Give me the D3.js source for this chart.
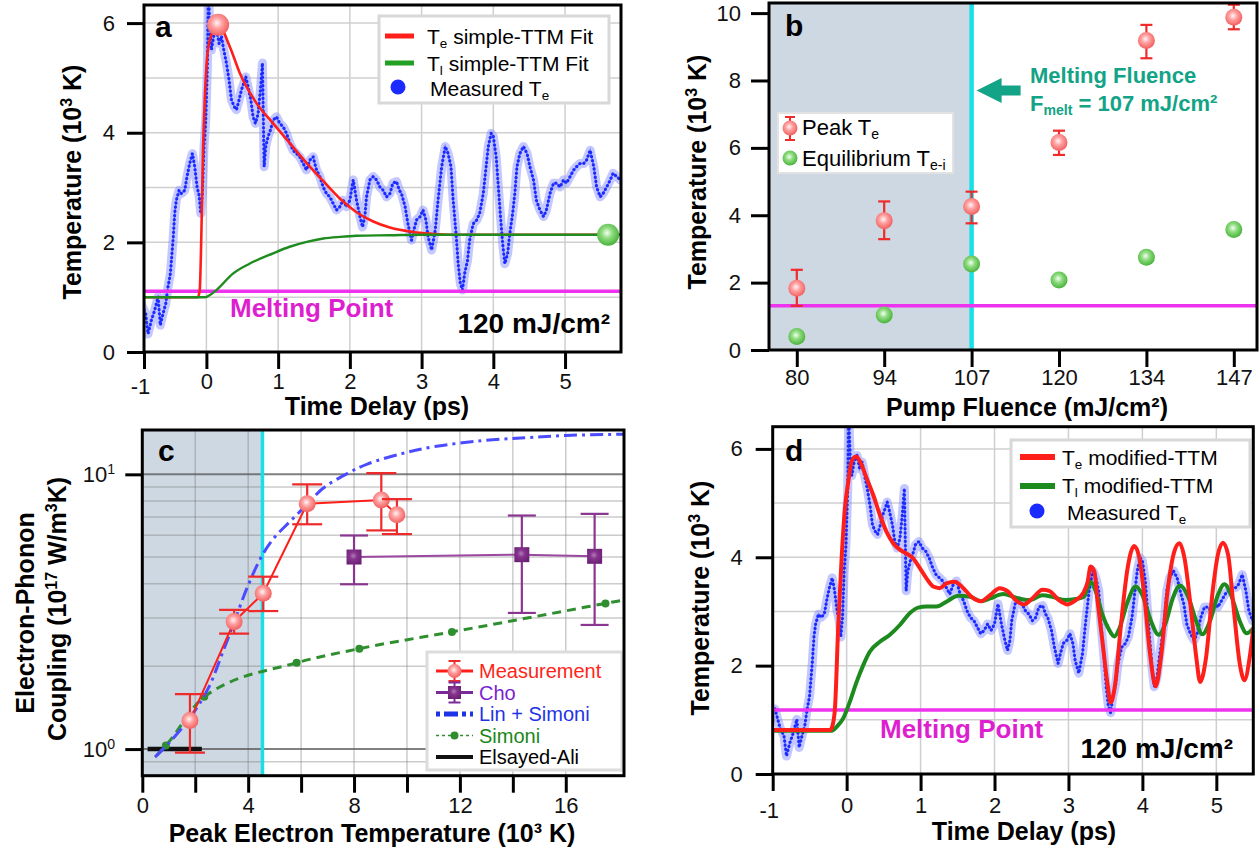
<!DOCTYPE html>
<html><head><meta charset="utf-8">
<script src="https://cdn.jsdelivr.net/npm/d3@7"></script>
<style>
body{margin:0;background:#fff}
svg{display:block}
text{font-family:"Liberation Sans",Arial,Helvetica,sans-serif}
</style></head>
<body><svg id="fig" width="1260" height="850"></svg>
<script>
// ---------------- DATA ----------------
// Measured electron temperature trace (time in ps, T in 10^3 K), shared by panels a and d
const measuredTe = [[-0.97,1.2],[-0.93,1.0],[-0.90,0.85],[-0.847,0.70],[-0.814,0.33],[-0.767,0.58],[-0.721,0.76],[-0.674,1.01],[-0.642,0.49],[-0.605,0.70],[-0.567,0.88],[-0.535,1.19],[-0.502,1.43],[-0.465,2.04],[-0.442,2.53],[-0.419,2.77],[-0.381,2.95],[-0.349,2.89],[-0.302,2.95],[-0.270,3.20],[-0.233,3.44],[-0.195,3.62],[-0.163,3.38],[-0.130,3.01],[-0.102,2.86],[-0.079,2.53],[-0.056,2.89],[-0.033,3.75],[-0.009,4.23],[0.014,5.21],[0.028,6.6],[0.047,5.9],[0.070,5.51],[0.102,5.76],[0.140,5.88],[0.177,5.63],[0.209,5.76],[0.242,5.51],[0.279,5.27],[0.316,4.96],[0.349,4.60],[0.386,4.48],[0.419,4.42],[0.456,4.60],[0.488,4.78],[0.521,4.90],[0.549,5.02],[0.581,4.84],[0.619,4.60],[0.651,4.29],[0.684,4.17],[0.721,4.35],[0.753,4.78],[0.781,5.27],[0.805,3.38],[0.828,3.75],[0.860,3.93],[0.893,4.05],[0.930,4.23],[0.977,4.29],[1.023,4.17],[1.070,4.11],[1.116,3.99],[1.163,3.81],[1.209,3.68],[1.256,3.62],[1.302,3.56],[1.349,3.44],[1.395,3.32],[1.442,3.50],[1.488,3.56],[1.535,3.32],[1.581,3.20],[1.628,3.01],[1.674,2.89],[1.721,2.83],[1.767,2.71],[1.814,2.59],[1.860,2.65],[1.907,2.77],[1.953,2.65],[2.000,2.77],[2.047,3.14],[2.093,2.77],[2.140,2.47],[2.177,2.28],[2.209,2.47],[2.233,2.83],[2.279,3.14],[2.326,3.20],[2.372,3.14],[2.419,3.01],[2.465,2.95],[2.512,2.83],[2.558,2.89],[2.60,3.08],[2.65,3.11],[2.69,2.95],[2.72,2.89],[2.77,2.65],[2.81,2.34],[2.86,2.04],[2.89,2.22],[2.93,2.41],[2.98,2.47],[3.02,2.59],[3.06,2.41],[3.09,2.10],[3.14,1.86],[3.19,2.22],[3.23,2.77],[3.28,3.38],[3.33,3.75],[3.37,3.62],[3.41,3.38],[3.44,2.77],[3.48,2.16],[3.51,1.61],[3.54,1.25],[3.57,1.13],[3.60,1.43],[3.64,1.67],[3.67,2.04],[3.72,2.34],[3.77,2.41],[3.81,2.53],[3.86,2.89],[3.90,3.38],[3.93,3.75],[3.97,3.99],[4.00,3.93],[4.04,3.56],[4.07,3.01],[4.10,2.47],[4.13,1.98],[4.16,1.61],[4.20,1.80],[4.23,2.16],[4.27,2.53],[4.30,2.89],[4.33,3.38],[4.37,3.62],[4.42,3.75],[4.47,3.62],[4.51,3.38],[4.56,3.14],[4.60,2.77],[4.65,2.59],[4.70,2.47],[4.74,2.59],[4.79,2.89],[4.84,3.08],[4.88,3.08],[4.93,3.01],[4.98,3.14],[5.02,3.08],[5.07,3.20],[5.12,3.32],[5.16,3.38],[5.21,3.44],[5.26,3.44],[5.30,3.50],[5.35,3.68],[5.40,3.38],[5.44,3.01],[5.49,2.83],[5.53,2.89],[5.58,3.01],[5.63,3.14],[5.67,3.26],[5.72,3.20],[5.77,3.14]];

// Panel a: simple-TTM fits
const simpleTe = [[-0.87,1.0],[-0.12,1.0],[-0.093,1.13],[-0.07,2.16],[-0.047,3.68],[-0.023,4.6],[0,5.21],[0.047,5.69],[0.116,5.9],[0.163,5.97],[0.326,5.57],[0.465,5.09],[0.698,4.54],[0.93,4.17],[1.163,3.81],[1.395,3.45],[1.628,3.12],[1.86,2.8],[2.093,2.55],[2.326,2.38],[2.558,2.27],[2.88,2.19],[3.12,2.16],[3.4,2.14],[5.78,2.14]];
const simpleTl = [[-0.87,1.0],[-0.02,1.0],[0.05,1.04],[0.14,1.13],[0.37,1.43],[0.6,1.61],[0.93,1.8],[1.16,1.92],[1.4,2.01],[1.63,2.07],[1.86,2.1],[2.09,2.12],[2.56,2.13],[3.0,2.14],[5.78,2.14]];
const peakPointA = [0.163, 5.97];
const equilPointA = [5.6, 2.14];
const meltLevelA = 1.11;
const aTimeTicks = [-0.87, 0, 1, 2, 3, 4, 5];
const aTimeTickLabels = ["-1","0","1","2","3","4","5"];
const aTempTicks = [0, 2, 4, 6];

// Panel b: fluence dependence
const fluences = ["80","94","107","120","134","147"];
const peakTe   = [1.83, 3.84, 4.26, 6.16, 9.19, 9.88];
const peakLo   = [1.31, 3.29, 3.76, 5.79, 8.66, 9.52];
const peakHi   = [2.38, 4.41, 4.70, 6.51, 9.65, 10.25];
const equilTe  = [0.40, 1.04, 2.55, 2.08, 2.75, 3.58];
const meltFluence = "107";
const meltLevelB = 1.31;
const bTempTicks = [0, 2, 4, 6, 8, 10];

// Panel c: electron-phonon coupling (x in 10^3 K, G in 10^17 W/m^3K)
const measPeakT = [1.80, 3.47, 4.57, 6.23, 9.03, 9.62];
const measG     = [1.27, 2.91, 3.69, 7.82, 8.07, 7.12];
const measGLo   = [0.97, 2.63, 3.18, 6.58, 6.25, 6.06];
const measGHi   = [1.585, 3.21, 4.24, 9.2, 10.1, 8.12];
const choT   = [8.0, 14.34, 17.09];
const choG   = [5.0, 5.1, 5.03];
const choGLo = [3.98, 3.13, 2.83];
const choGHi = [5.99, 7.08, 7.18];
const linSimoni = [[0.48,0.935],[1,1.05],[1.8,1.3],[2.5,1.67],[3,2.2],[3.5,2.95],[4,3.95],[4.54,5.09],[5,5.9],[5.57,6.72],[6.2,7.73],[6.83,8.9],[7.77,10.1],[8.5,10.9],[9.81,11.9],[11,12.6],[12.83,13.25],[14.5,13.6],[16,13.85],[18.2,14.0]];
const simoniPts = [[0.89,1.03],[2.34,1.55],[5.83,2.06],[8.2,2.32],[11.7,2.67],[17.5,3.39]];
const simoniStart = [0.55,0.95];
const simoniEnd = [18.2,3.49];
const elsayedAli = [[0.2,1.0],[2.25,1.0]];
const meltPeakTeC = 4.54;
const cXTicks = [0,2,4,6,8,10,12,14,16];
const cYTicks = [1, 10];
const cYTickExp = ["0","1"];
const cMinorGrid = [0.9,2,3,4,5,6,7,8,9];
const cMajorGrid = [1,10];
const cLegendLabels = ["Measurement","Cho","Lin + Simoni","Simoni","Elsayed-Ali"];

// Panel d: modified-TTM
const modTe = [[-1,0.81],[-0.225,0.81],[-0.19,0.9],[-0.158,1.21],[-0.113,2.75],[-0.068,3.98],[-0.023,4.90],[0.023,5.40],[0.068,5.77],[0.126,5.86],[0.18,5.77],[0.27,5.46],[0.36,5.15],[0.45,4.78],[0.54,4.47],[0.63,4.26],[0.72,4.14],[0.81,4.07],[0.9,3.98],[0.99,3.80],[1.08,3.61],[1.17,3.46],[1.26,3.43],[1.35,3.52],[1.46,3.55],[1.58,3.43],[1.69,3.27],[1.82,3.19],[1.94,3.30],[2.07,3.43],[2.18,3.37],[2.285,3.21],[2.4,3.13],[2.51,3.24],[2.65,3.40],[2.74,3.38],[2.87,3.21],[2.99,3.13],[3.10,3.21],[3.2,3.34],[3.26,3.55],[3.30,3.83],[3.35,3.74],[3.39,3.24],[3.46,2.44],[3.53,1.64],[3.57,1.32],[3.63,1.64],[3.71,2.75],[3.80,3.80],[3.89,4.21],[3.96,3.98],[4.03,3.24],[4.10,2.26],[4.18,1.62],[4.25,2.14],[4.34,3.37],[4.43,4.10],[4.50,4.26],[4.57,3.98],[4.66,3.0],[4.73,2.14],[4.78,1.70],[4.86,2.14],[4.95,3.37],[5.02,4.04],[5.09,4.27],[5.16,4.04],[5.23,3.12],[5.32,2.01],[5.38,1.73],[5.45,2.14],[5.5,2.69]];
const modTl = [[-1,0.80],[-0.2,0.80],[-0.135,0.87],[-0.045,1.03],[0.045,1.34],[0.135,1.70],[0.225,2.01],[0.315,2.26],[0.45,2.44],[0.585,2.57],[0.72,2.75],[0.856,2.97],[0.968,3.07],[1.08,3.09],[1.216,3.09],[1.35,3.18],[1.51,3.29],[1.67,3.27],[1.82,3.19],[1.94,3.24],[2.12,3.32],[2.30,3.25],[2.47,3.21],[2.65,3.30],[2.78,3.27],[2.96,3.21],[3.10,3.23],[3.21,3.27],[3.30,3.55],[3.37,3.37],[3.46,2.94],[3.55,2.66],[3.62,2.54],[3.69,2.69],[3.80,3.18],[3.91,3.46],[4.0,3.30],[4.12,2.81],[4.22,2.57],[4.32,2.81],[4.41,3.24],[4.51,3.48],[4.62,3.27],[4.73,2.81],[4.81,2.58],[4.91,2.81],[5.02,3.30],[5.11,3.50],[5.20,3.30],[5.32,2.81],[5.41,2.60],[5.5,2.69]];
const meltLevelD = 1.18;
const dTimeTicks = [-1,0,1,2,3,4,5];
const dTempTicks = [0,2,4,6];

// ---------------- STYLE ----------------
const C = {
  red:"#ff1f1a", greenA:"#1e8c1e", magenta:"#ee33ee", magText:"#dd1fcf",
  cyan:"#19dfe6", shade:"#cdd8e3", teal:"#13a386", grid:"#cfcfcf",
  errRed:"#ee2a2a", purple:"#8a3590", blueDash:"#4b4cff", simoni:"#2f8f2f"
};
const plain = d => String(d);
const svg = d3.select("#fig");
const defs = svg.append("defs");
function radial(id, c0, c1, c2){
  const g = defs.append("radialGradient").attr("id",id).attr("cx","45%").attr("cy","42%").attr("r","62%");
  g.append("stop").attr("offset","0%").attr("stop-color",c0);
  g.append("stop").attr("offset","40%").attr("stop-color",c1);
  g.append("stop").attr("offset","100%").attr("stop-color",c2);
}
radial("gRed","#fff6f6","#ff9f9f","#f05858");
radial("gGreen","#f2fff0","#8edb7e","#3fae33");
radial("gPurple","#b27ab8","#86338e","#6b2173");
function clip(id,x0,y0,x1,y1){
  defs.append("clipPath").attr("id",id).append("rect").attr("x",x0).attr("y",y0).attr("width",x1-x0).attr("height",y1-y0);
}
function rich(g, x, y, parts, size, color, weight, anchor){
  const t = g.append("text").attr("x",x).attr("y",y).attr("font-size",size).attr("fill",color)
    .attr("font-weight",weight||"normal").attr("text-anchor",anchor||"start");
  let shift = 0;
  parts.forEach(p=>{
    const sp = t.append("tspan").text(p.t);
    const target = p.sub ? size*0.2 : (p.sup ? -size*0.38 : 0);
    if (target-shift !== 0) sp.attr("dy", target-shift);
    shift = target;
    if (p.sub || p.sup) sp.attr("font-size", size*0.64);
  });
  return t;
}
function styleAxis(g, size){
  g.select(".domain").remove();
  g.selectAll(".tick line").attr("stroke","#000").attr("stroke-width",3);
  g.selectAll(".tick text").attr("font-size",size||22).attr("fill","#111")
    .attr("font-family","'Liberation Sans',Arial,sans-serif");
}
function frame(x0,y0,x1,y1){
  svg.append("rect").attr("x",x0).attr("y",y0).attr("width",x1-x0).attr("height",y1-y0)
    .attr("fill","none").attr("stroke","#000").attr("stroke-width",3);
}
function drawTrace(g, x, y, data){
  const line = d3.line().x(d=>x(d[0])).y(d=>y(d[1]));
  g.append("path").attr("d",line(data)).attr("fill","none").attr("stroke","#7d86ff")
    .attr("stroke-opacity",0.45).attr("stroke-width",9).attr("stroke-linejoin","round").attr("stroke-linecap","round");
  g.append("path").attr("d",line(data)).attr("fill","none").attr("stroke","#7480ff").attr("stroke-width",1.6);
  g.append("path").attr("d",line(data)).attr("fill","none").attr("stroke","#1b2bff").attr("stroke-width",3.2)
    .attr("stroke-dasharray","0.01,4.2").attr("stroke-linecap","round");
}
function yTitle(x, y, parts, size){
  const g = svg.append("g").attr("transform",`translate(${x},${y}) rotate(-90)`);
  rich(g, 0, 0, parts, size||25, "#000", "bold", "middle");
}
const mono = d3.curveMonotoneX;

// ================= PANEL A =================
(function(){
  const L=144,R=621,T=5,B=352;
  const x = d3.scaleLinear().domain([-0.87,5.78]).range([L,R]);
  const y = d3.scaleLinear().domain([0,6.33]).range([B,T]);
  clip("clipA",L,T,R,B);
  const g = svg.append("g");
  const pg = g.append("g").attr("clip-path","url(#clipA)");
  pg.selectAll(".gy").data(d3.range(1,7)).join("line").attr("x1",L).attr("x2",R).attr("y1",d=>y(d)).attr("y2",d=>y(d)).attr("stroke",C.grid).attr("stroke-width",1.5);
  pg.selectAll(".gx").data(d3.range(0,6)).join("line").attr("y1",T).attr("y2",B).attr("x1",d=>x(d)).attr("x2",d=>x(d)).attr("stroke",C.grid).attr("stroke-width",1.5);
  drawTrace(pg, x, y, measuredTe);
  pg.append("line").attr("x1",L).attr("x2",R).attr("y1",y(meltLevelA)).attr("y2",y(meltLevelA)).attr("stroke",C.magenta).attr("stroke-width",3.5);
  const line = d3.line().x(d=>x(d[0])).y(d=>y(d[1])).curve(mono);
  pg.append("path").attr("d",line(simpleTe)).attr("fill","none").attr("stroke",C.red).attr("stroke-width",2.6);
  pg.append("path").attr("d",line(simpleTl)).attr("fill","none").attr("stroke",C.greenA).attr("stroke-width",2.4);
  pg.append("circle").attr("cx",x(peakPointA[0])).attr("cy",y(peakPointA[1])).attr("r",11).attr("fill","url(#gRed)");
  pg.append("circle").attr("cx",x(equilPointA[0])).attr("cy",y(equilPointA[1])).attr("r",11).attr("fill","url(#gGreen)");
  const ay = g.append("g").attr("transform",`translate(${L},0)`).call(d3.axisLeft(y).tickValues(aTempTicks).tickFormat(plain).tickSize(17).tickPadding(12));
  styleAxis(ay);
  const ax = g.append("g").attr("transform",`translate(0,${B})`).call(d3.axisBottom(x).tickValues(aTimeTicks).tickFormat((d,i)=>aTimeTickLabels[i]).tickSize(17).tickPadding(4));
  styleAxis(ax);
  ax.selectAll(".tick text").filter((d,i)=>i===0).attr("dy","0.95em").attr("dx","-4");
  g.append("text").attr("x",155).attr("y",37).attr("font-size",30).attr("font-weight","bold").text("a");
  g.append("text").attr("x",230).attr("y",317).attr("font-size",26).attr("font-weight","bold").attr("fill",C.magText).text("Melting Point");
  g.append("text").attr("x",610).attr("y",333).attr("font-size",28).attr("font-weight","bold").attr("text-anchor","end").text("120 mJ/cm²");
  // legend
  g.append("rect").attr("x",379).attr("y",16).attr("width",230).attr("height",87).attr("fill","#fff").attr("stroke","#d8d8d8").attr("stroke-width",3);
  g.append("line").attr("x1",385).attr("x2",414).attr("y1",36).attr("y2",36).attr("stroke",C.red).attr("stroke-width",5);
  rich(g,427,44,[{t:"T"},{t:"e",sub:1},{t:" simple-TTM Fit"}],21,"#000");
  g.append("line").attr("x1",385).attr("x2",414).attr("y1",63).attr("y2",63).attr("stroke","#22a022").attr("stroke-width",5);
  rich(g,427,71,[{t:"T"},{t:"l",sub:1},{t:" simple-TTM Fit"}],21,"#000");
  g.append("circle").attr("cx",398).attr("cy",87).attr("r",7.5).attr("fill","#1b2bff");
  rich(g,430,96,[{t:"Measured T"},{t:"e",sub:1}],21,"#000");
  g.append("text").attr("x",377).attr("y",415).attr("font-size",25).attr("font-weight","bold").attr("text-anchor","middle").text("Time Delay (ps)");
  frame(L,T,R,B);
})();
yTitle(81,182,[{t:"Temperature (10"},{t:"3",sup:1},{t:" K)"}]);

// ================= PANEL B =================
(function(){
  const L=769,R=1257,T=3,B=350;
  const x = d3.scalePoint().domain(fluences).range([796.8,1233.8]);
  const y = d3.scaleLinear().domain([0,10.3]).range([B,T]);
  clip("clipB",L,T,R,B);
  const g = svg.append("g");
  const pg = g.append("g").attr("clip-path","url(#clipB)");
  pg.append("rect").attr("x",L).attr("y",T).attr("width",x(meltFluence)-L).attr("height",B-T).attr("fill",C.shade);
  pg.append("line").attr("x1",x(meltFluence)).attr("x2",x(meltFluence)).attr("y1",T).attr("y2",B).attr("stroke",C.cyan).attr("stroke-width",4.5);
  pg.append("line").attr("x1",L).attr("x2",R).attr("y1",y(meltLevelB)).attr("y2",y(meltLevelB)).attr("stroke",C.magenta).attr("stroke-width",3.5);
  const eb = pg.selectAll(".eb").data(fluences).join("g");
  eb.append("line").attr("x1",d=>x(d)).attr("x2",d=>x(d)).attr("y1",(d,i)=>y(peakLo[i])).attr("y2",(d,i)=>y(peakHi[i])).attr("stroke",C.errRed).attr("stroke-width",2.2);
  eb.append("line").attr("x1",d=>x(d)-6).attr("x2",d=>x(d)+6).attr("y1",(d,i)=>y(peakLo[i])).attr("y2",(d,i)=>y(peakLo[i])).attr("stroke",C.errRed).attr("stroke-width",2.2);
  eb.append("line").attr("x1",d=>x(d)-6).attr("x2",d=>x(d)+6).attr("y1",(d,i)=>y(peakHi[i])).attr("y2",(d,i)=>y(peakHi[i])).attr("stroke",C.errRed).attr("stroke-width",2.2);
  pg.selectAll(".pk").data(fluences).join("circle").attr("cx",d=>x(d)).attr("cy",(d,i)=>y(peakTe[i])).attr("r",8.5).attr("fill","url(#gRed)");
  pg.selectAll(".eq").data(fluences).join("circle").attr("cx",d=>x(d)).attr("cy",(d,i)=>y(equilTe[i])).attr("r",8.5).attr("fill","url(#gGreen)");
  const ay = g.append("g").attr("transform",`translate(${L},0)`).call(d3.axisLeft(y).tickValues(bTempTicks).tickFormat(plain).tickSize(18).tickPadding(10));
  styleAxis(ay);
  const ax = g.append("g").attr("transform",`translate(0,${B})`).call(d3.axisBottom(x).tickSize(17).tickPadding(2));
  styleAxis(ax);
  const ax0 = x(meltFluence)+5, ay0 = y(7.7);
  g.append("path").attr("d",`M${ax0},${ay0} L${ax0+25},${ay0-12.5} L${ax0+25},${ay0-5} L${ax0+44},${ay0-5} L${ax0+44},${ay0+5} L${ax0+25},${ay0+5} L${ax0+25},${ay0+12.5} Z`).attr("fill",C.teal);
  g.append("text").attr("x",1030).attr("y",83).attr("font-size",22).attr("font-weight","bold").attr("fill",C.teal).text("Melting Fluence");
  rich(g,1030,111,[{t:"F"},{t:"melt",sub:1},{t:" = 107 mJ/cm²"}],22,C.teal,"bold");
  g.append("text").attr("x",785).attr("y",36).attr("font-size",30).attr("font-weight","bold").text("b");
  // legend
  g.append("rect").attr("x",778).attr("y",113).attr("width",175).attr("height",60).attr("fill","#fff").attr("stroke","#e2e2e2").attr("stroke-width",2);
  g.append("line").attr("x1",790).attr("x2",790).attr("y1",117).attr("y2",140).attr("stroke",C.errRed).attr("stroke-width",2);
  g.append("line").attr("x1",785).attr("x2",795).attr("y1",117).attr("y2",117).attr("stroke",C.errRed).attr("stroke-width",2);
  g.append("line").attr("x1",785).attr("x2",795).attr("y1",140).attr("y2",140).attr("stroke",C.errRed).attr("stroke-width",2);
  g.append("circle").attr("cx",790).attr("cy",128).attr("r",7.5).attr("fill","url(#gRed)");
  rich(g,802,135,[{t:"Peak T"},{t:"e",sub:1}],22,"#000");
  g.append("circle").attr("cx",790).attr("cy",158).attr("r",7.5).attr("fill","url(#gGreen)");
  rich(g,802,166,[{t:"Equilibrium T"},{t:"e-i",sub:1}],22,"#000");
  g.append("text").attr("x",1027).attr("y",416).attr("font-size",25).attr("font-weight","bold").attr("text-anchor","middle").text("Pump Fluence (mJ/cm²)");
  frame(L,T,R,B);
})();
yTitle(706,172,[{t:"Temperature (10"},{t:"3",sup:1},{t:" K)"}]);

// ================= PANEL C =================
(function(){
  const L=142.3,R=624,T=430,B=775.7;
  const x = d3.scaleLinear().domain([0,18.2]).range([L,R]);
  const y = d3.scaleLog().domain([0.80,14.5]).range([B,T]);
  clip("clipC",L,T,R,B);
  const g = svg.append("g");
  const pg = g.append("g").attr("clip-path","url(#clipC)");
  pg.append("rect").attr("x",L).attr("y",T).attr("width",x(meltPeakTeC)-L).attr("height",B-T).attr("fill",C.shade);
  pg.selectAll(".gx").data(cXTicks.filter(d=>d>0)).join("line").attr("y1",T).attr("y2",B).attr("x1",d=>x(d)).attr("x2",d=>x(d)).attr("stroke","#777").attr("stroke-opacity",0.38).attr("stroke-width",1.5);
  pg.selectAll(".gm").data(cMinorGrid).join("line").attr("x1",L).attr("x2",R).attr("y1",d=>y(d)).attr("y2",d=>y(d)).attr("stroke","#777").attr("stroke-opacity",0.38).attr("stroke-width",1.5);
  pg.selectAll(".gM").data(cMajorGrid).join("line").attr("x1",L).attr("x2",R).attr("y1",d=>y(d)).attr("y2",d=>y(d)).attr("stroke","#555").attr("stroke-opacity",0.75).attr("stroke-width",2);
  pg.append("line").attr("x1",x(meltPeakTeC)).attr("x2",x(meltPeakTeC)).attr("y1",T).attr("y2",B).attr("stroke",C.cyan).attr("stroke-width",3.5);
  const line = d3.line().x(d=>x(d[0])).y(d=>y(d[1]));
  pg.append("path").attr("d",line(elsayedAli)).attr("stroke","#111").attr("stroke-width",4.5).attr("fill","none");
  pg.append("path").attr("d",line.curve(mono)([simoniStart,...simoniPts,simoniEnd])).attr("fill","none").attr("stroke",C.simoni).attr("stroke-width",3).attr("stroke-dasharray","9,6");
  pg.selectAll(".sd").data(simoniPts).join("circle").attr("cx",d=>x(d[0])).attr("cy",d=>y(d[1])).attr("r",4).attr("fill",C.simoni);
  pg.append("path").attr("d",d3.line().x(d=>x(d[0])).y(d=>y(d[1])).curve(d3.curveCatmullRom)(linSimoni)).attr("fill","none").attr("stroke",C.blueDash).attr("stroke-width",3).attr("stroke-dasharray","13,5,3,5");
  // Cho
  pg.append("path").attr("d",d3.line()(choT.map((t,i)=>[x(t),y(choG[i])]))).attr("fill","none").attr("stroke","#9b48a0").attr("stroke-width",2);
  const cb = pg.selectAll(".cb").data(choT).join("g");
  cb.append("line").attr("x1",d=>x(d)).attr("x2",d=>x(d)).attr("y1",(d,i)=>y(choGLo[i])).attr("y2",(d,i)=>y(choGHi[i])).attr("stroke",C.purple).attr("stroke-width",2.2);
  cb.append("line").attr("x1",d=>x(d)-14).attr("x2",d=>x(d)+14).attr("y1",(d,i)=>y(choGLo[i])).attr("y2",(d,i)=>y(choGLo[i])).attr("stroke",C.purple).attr("stroke-width",2.2);
  cb.append("line").attr("x1",d=>x(d)-14).attr("x2",d=>x(d)+14).attr("y1",(d,i)=>y(choGHi[i])).attr("y2",(d,i)=>y(choGHi[i])).attr("stroke",C.purple).attr("stroke-width",2.2);
  cb.append("rect").attr("x",d=>x(d)-7.5).attr("y",(d,i)=>y(choG[i])-7.5).attr("width",15).attr("height",15).attr("fill","url(#gPurple)");
  // Measurement
  pg.append("path").attr("d",d3.line()(measPeakT.map((t,i)=>[x(t),y(measG[i])]))).attr("fill","none").attr("stroke",C.red).attr("stroke-width",2);
  const mb = pg.selectAll(".mb").data(measPeakT).join("g");
  mb.append("line").attr("x1",d=>x(d)).attr("x2",d=>x(d)).attr("y1",(d,i)=>y(measGLo[i])).attr("y2",(d,i)=>y(measGHi[i])).attr("stroke",C.errRed).attr("stroke-width",2.2);
  mb.append("line").attr("x1",d=>x(d)-15).attr("x2",d=>x(d)+15).attr("y1",(d,i)=>y(measGLo[i])).attr("y2",(d,i)=>y(measGLo[i])).attr("stroke",C.errRed).attr("stroke-width",2.2);
  mb.append("line").attr("x1",d=>x(d)-15).attr("x2",d=>x(d)+15).attr("y1",(d,i)=>y(measGHi[i])).attr("y2",(d,i)=>y(measGHi[i])).attr("stroke",C.errRed).attr("stroke-width",2.2);
  mb.append("circle").attr("cx",d=>x(d)).attr("cy",(d,i)=>y(measG[i])).attr("r",8.5).attr("fill","url(#gRed)");
  // axes
  const ay = g.append("g").attr("transform",`translate(${L},0)`).call(d3.axisLeft(y).tickValues(cYTicks).tickFormat(()=>"").tickSize(17));
  styleAxis(ay);
  cYTicks.forEach((v,i)=>rich(g,115,y(v)+8,[{t:"10"},{t:cYTickExp[i],sup:1}],22,"#111","normal","end"));
  const ax = g.append("g").attr("transform",`translate(0,${B})`).call(d3.axisBottom(x).tickValues(cXTicks).tickFormat(d=>d%4===0?String(d):"").tickSize(17).tickPadding(5));
  styleAxis(ax);
  g.append("text").attr("x",158).attr("y",461).attr("font-size",30).attr("font-weight","bold").text("c");
  // legend
  const lg = g.append("g");
  lg.append("rect").attr("x",427).attr("y",652).attr("width",195).attr("height",118).attr("fill","#fff").attr("stroke","#dcdcdc").attr("stroke-width",3);
  const sx0=436, sx1=473, sc=454.5;
  const rows = [671, 692.5, 714, 735.5, 757];
  const txtCol = ["#ff2418","#7a1fd0","#1f33e8","#1a861a","#000"];
  let ry=rows[0];
  lg.append("line").attr("x1",sx0).attr("x2",sx1).attr("y1",ry).attr("y2",ry).attr("stroke",C.red).attr("stroke-width",3);
  lg.append("line").attr("x1",sc).attr("x2",sc).attr("y1",ry-10).attr("y2",ry+10).attr("stroke",C.errRed).attr("stroke-width",2);
  lg.append("line").attr("x1",sc-6).attr("x2",sc+6).attr("y1",ry-10).attr("y2",ry-10).attr("stroke",C.errRed).attr("stroke-width",2);
  lg.append("line").attr("x1",sc-6).attr("x2",sc+6).attr("y1",ry+10).attr("y2",ry+10).attr("stroke",C.errRed).attr("stroke-width",2);
  lg.append("circle").attr("cx",sc).attr("cy",ry).attr("r",7).attr("fill","url(#gRed)");
  ry=rows[1];
  lg.append("line").attr("x1",sx0).attr("x2",sx1).attr("y1",ry).attr("y2",ry).attr("stroke","#7a2a9a").attr("stroke-width",3);
  lg.append("line").attr("x1",sc).attr("x2",sc).attr("y1",ry-10).attr("y2",ry+10).attr("stroke","#7a2a9a").attr("stroke-width",2);
  lg.append("line").attr("x1",sc-6).attr("x2",sc+6).attr("y1",ry-10).attr("y2",ry-10).attr("stroke","#7a2a9a").attr("stroke-width",2);
  lg.append("line").attr("x1",sc-6).attr("x2",sc+6).attr("y1",ry+10).attr("y2",ry+10).attr("stroke","#7a2a9a").attr("stroke-width",2);
  lg.append("rect").attr("x",sc-6.5).attr("y",ry-6.5).attr("width",13).attr("height",13).attr("fill","url(#gPurple)");
  ry=rows[2];
  lg.append("line").attr("x1",sx0).attr("x2",sx1).attr("y1",ry).attr("y2",ry).attr("stroke","#1c33e6").attr("stroke-width",5).attr("stroke-dasharray","4,4,14,4");
  ry=rows[3];
  lg.append("line").attr("x1",sx0).attr("x2",sx1).attr("y1",ry).attr("y2",ry).attr("stroke",C.simoni).attr("stroke-width",1.6).attr("stroke-dasharray","3,3");
  lg.append("circle").attr("cx",sc).attr("cy",ry).attr("r",4).attr("fill",C.simoni);
  ry=rows[4];
  lg.append("line").attr("x1",sx0).attr("x2",sx1).attr("y1",ry).attr("y2",ry).attr("stroke","#111").attr("stroke-width",4);
  cLegendLabels.forEach((s,i)=>lg.append("text").attr("x",479).attr("y",rows[i]+7).attr("font-size",20).attr("fill",txtCol[i]).text(s));
  g.append("text").attr("x",372).attr("y",842).attr("font-size",25).attr("font-weight","bold").attr("text-anchor","middle").text("Peak Electron Temperature (10³ K)");
  frame(L,T,R,B);
})();
yTitle(34,613,[{t:"Electron-Phonon"}]);
yTitle(66,609,[{t:"Coupling (10"},{t:"17",sup:1},{t:" W/m"},{t:"3",sup:1},{t:"K)"}]);

// ================= PANEL D =================
(function(){
  const L=772.7,R=1253.3,T=426.7,B=774;
  const x = d3.scaleLinear().domain([-1,5.5]).range([L,R]);
  const y = d3.scaleLinear().domain([0,6.41]).range([B,T]);
  clip("clipD",L,T,R,B);
  const g = svg.append("g");
  const pg = g.append("g").attr("clip-path","url(#clipD)");
  pg.selectAll(".gy").data(d3.range(1,7)).join("line").attr("x1",L).attr("x2",R).attr("y1",d=>y(d)).attr("y2",d=>y(d)).attr("stroke",C.grid).attr("stroke-width",1.5);
  pg.selectAll(".gx").data(d3.range(0,6)).join("line").attr("y1",T).attr("y2",B).attr("x1",d=>x(d)).attr("x2",d=>x(d)).attr("stroke",C.grid).attr("stroke-width",1.5);
  drawTrace(pg, x, y, measuredTe);
  pg.append("line").attr("x1",L).attr("x2",R).attr("y1",y(meltLevelD)).attr("y2",y(meltLevelD)).attr("stroke",C.magenta).attr("stroke-width",3.5);
  const line = d3.line().x(d=>x(d[0])).y(d=>y(d[1])).curve(mono);
  pg.append("path").attr("d",line(modTl)).attr("fill","none").attr("stroke","#1d8a1d").attr("stroke-width",4);
  pg.append("path").attr("d",line(modTe)).attr("fill","none").attr("stroke",C.red).attr("stroke-width",4);
  const ay = g.append("g").attr("transform",`translate(${L},0)`).call(d3.axisLeft(y).tickValues(dTempTicks).tickFormat(plain).tickSize(17).tickPadding(13));
  styleAxis(ay);
  const ax = g.append("g").attr("transform",`translate(0,${B})`).call(d3.axisBottom(x).tickValues(dTimeTicks).tickFormat(plain).tickSize(17).tickPadding(6));
  styleAxis(ax);
  ax.selectAll(".tick text").filter((d,i)=>i===0).attr("dy","0.95em").attr("dx","-4");
  g.append("text").attr("x",785).attr("y",461).attr("font-size",30).attr("font-weight","bold").text("d");
  g.append("text").attr("x",880).attr("y",738).attr("font-size",26).attr("font-weight","bold").attr("fill",C.magText).text("Melting Point");
  g.append("text").attr("x",1233).attr("y",758).attr("font-size",28).attr("font-weight","bold").attr("text-anchor","end").text("120 mJ/cm²");
  // legend
  g.append("rect").attr("x",1011).attr("y",440).attr("width",239).attr("height",87).attr("fill","#fff").attr("stroke","#d8d8d8").attr("stroke-width",3);
  g.append("line").attr("x1",1020).attr("x2",1055).attr("y1",457).attr("y2",457).attr("stroke",C.red).attr("stroke-width",6);
  rich(g,1062,465,[{t:"T"},{t:"e",sub:1},{t:" modified-TTM"}],21,"#000");
  g.append("line").attr("x1",1020).attr("x2",1055).attr("y1",486).attr("y2",486).attr("stroke","#1d8a1d").attr("stroke-width",6);
  rich(g,1062,493,[{t:"T"},{t:"l",sub:1},{t:" modified-TTM"}],21,"#000");
  g.append("circle").attr("cx",1037).attr("cy",511).attr("r",7.5).attr("fill","#1b2bff");
  rich(g,1067,520,[{t:"Measured T"},{t:"e",sub:1}],21,"#000");
  g.append("text").attr("x",1024).attr("y",840).attr("font-size",25).attr("font-weight","bold").attr("text-anchor","middle").text("Time Delay (ps)");
  frame(L,T,R,B);
})();
yTitle(709,598,[{t:"Temperature (10"},{t:"3",sup:1},{t:" K)"}]);
</script>
</body></html>
